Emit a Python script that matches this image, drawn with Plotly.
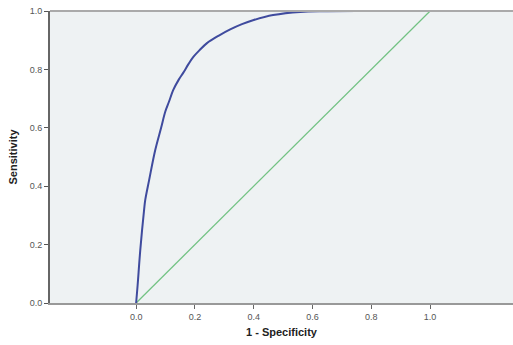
import plotly.graph_objects as go

fpr = [0, 0.005, 0.014, 0.027, 0.031, 0.044, 0.065, 0.085, 0.099, 0.112, 0.126, 0.145,
       0.16, 0.178, 0.194, 0.215, 0.241, 0.28, 0.32, 0.36, 0.40, 0.466, 0.558, 0.65, 0.75]
tpr = [0, 0.06, 0.18, 0.318, 0.353, 0.42, 0.524, 0.60, 0.655, 0.69, 0.729, 0.765,
       0.788, 0.818, 0.842, 0.865, 0.89, 0.915, 0.937, 0.955, 0.969, 0.986, 0.997, 0.999, 1.0]
ref_x = [0, 1]
ref_y = [0, 1]
ticks = [0.0, 0.2, 0.4, 0.6, 0.8, 1.0]

fig = go.Figure()
fig.add_trace(go.Scatter(x=ref_x, y=ref_y, mode="lines",
                         line=dict(color="#72c283", width=1.3), showlegend=False))
fig.add_trace(go.Scatter(x=fpr, y=tpr, mode="lines", line_shape="spline",
                         line=dict(color="#3f4b9e", width=2), showlegend=False))

fig.update_layout(
    width=513, height=345,
    margin=dict(l=50, r=0, t=11, b=42),
    paper_bgcolor="white", plot_bgcolor="#eef2f3",
    font=dict(family="Arial, Liberation Sans, sans-serif", size=9, color="#555"),
    shapes=[dict(type="line", xref="paper", yref="paper", x0=0, x1=1, y0=1, y1=1,
                 line=dict(color="#aaaaaa", width=2))],
)
fig.update_xaxes(range=[-0.293, 1.282], tickvals=ticks, tickformat=".1f",
                 ticks="outside", ticklen=4, tickcolor="#666", showgrid=False,
                 zeroline=False, showline=True, linecolor="#999", linewidth=2,
                 title=dict(text="<b>1 - Specificity</b>", font=dict(size=11, color="#222"),
                            standoff=8))
fig.update_yaxes(range=[0, 1], tickvals=ticks, tickformat=".1f",
                 ticks="outside", ticklen=4, tickcolor="#555", showgrid=False,
                 zeroline=False, showline=True, linecolor="#666", linewidth=2,
                 title=dict(text="<b>Sensitivity</b>", font=dict(size=11, color="#222"),
                            standoff=10))

fig.write_html("out.html")
